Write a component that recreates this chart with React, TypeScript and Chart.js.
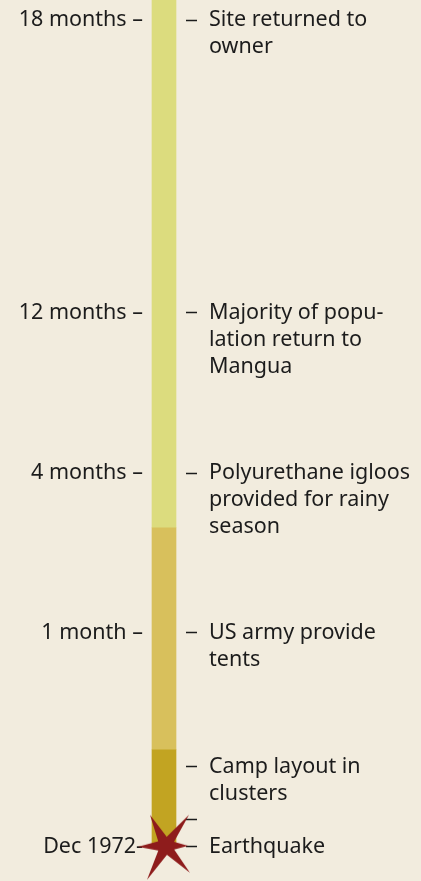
import React, { useEffect, useRef } from 'react';
import { Chart, registerables } from 'chart.js';

Chart.register(...registerables);

// Timeline positions (0 = bottom of the strip, 100 = top)
const tickPositions = [3.9, 7.0, 13.0, 28.2, 46.3, 64.5, 97.7];
const leftLabels = ['Dec 1972-', '', '', '1 month –', '4 months –', '12 months –', '18 months –'];
const rightLabels: string[][] = [
  ['Earthquake'],
  [''],
  ['Camp layout in', 'clusters'],
  ['US army provide', 'tents'],
  ['Polyurethane igloos', 'provided for rainy', 'season'],
  ['Majority of popu-', 'lation return to', 'Mangua'],
  ['Site returned to', 'owner'],
];
const phaseNames = ['Emergency', 'Relief', 'Rehabilitation'];
const phaseStart = [4.1, 14.9, 40.1];
const phaseEnd = [14.9, 40.1, 100];
const phaseColors = ['#c2a422', '#d8c05c', '#dcdc7e'];
const quakePosition = [4.0];

const BG = '#f2ecde';
const TEXT = '#1c1c1c';
const FONT = 'Noto Sans';
const FSIZE = 21.5;

function makeStar(): HTMLCanvasElement {
  const c = document.createElement('canvas');
  c.width = 80;
  c.height = 80;
  const ctx = c.getContext('2d')!;
  const cx = 42;
  const cy = 40;
  const outer: [number, number][] = [
    [-16, -31], [23, -31], [22, 0], [24, 27], [-19, 34], [-28, 1],
  ];
  const pts: [number, number][] = [];
  for (let i = 0; i < outer.length; i++) {
    const a = outer[i];
    const b = outer[(i + 1) % outer.length];
    pts.push(a);
    const aa = Math.atan2(a[1], a[0]);
    let bb = Math.atan2(b[1], b[0]);
    if (bb < aa) bb += Math.PI * 2;
    const mid = (aa + bb) / 2;
    pts.push([Math.cos(mid) * 9, Math.sin(mid) * 9]);
  }
  ctx.beginPath();
  pts.forEach((p, i) => {
    if (i === 0) ctx.moveTo(cx + p[0], cy + p[1]);
    else ctx.lineTo(cx + p[0], cy + p[1]);
  });
  ctx.closePath();
  ctx.fillStyle = '#8e1c1c';
  ctx.fill();
  return c;
}

export default function App() {
  const ref = useRef<HTMLCanvasElement | null>(null);
  useEffect(() => {
    if (!ref.current) return;
    const star = makeStar();
    const barSets: any[] = phaseNames.map((name, i) => ({
      type: 'bar',
      label: name,
      data: [[phaseStart[i], phaseEnd[i]]],
      backgroundColor: phaseColors[i],
      borderWidth: 0,
      barThickness: 24,
      grouped: false,
      yAxisID: 'y',
      order: 2,
    }));
    const chart = new Chart(ref.current, {
      type: 'bar',
      data: {
        labels: ['Timeline'],
        datasets: [
          {
            type: 'line',
            label: 'Earthquake',
            data: quakePosition,
            showLine: false,
            pointStyle: star as any,
            pointRadius: 10,
            yAxisID: 'y',
            order: 0,
            clip: false,
          } as any,
          ...barSets,
        ],
      },
      options: {
        animation: false,
        responsive: true,
        maintainAspectRatio: false,
        layout: { padding: 0, autoPadding: false },
        plugins: { legend: { display: false }, tooltip: { enabled: false } },
        scales: {
          x: { display: false },
          y: {
            position: 'left',
            min: 0,
            max: 100,
            border: { display: false },
            grid: { display: false, drawTicks: false },
            afterBuildTicks: (s: any) => {
              s.ticks = tickPositions.map((v) => ({ value: v }));
            },
            afterFit: (s: any) => {
              s.width = 148;
              s.paddingTop = 0;
              s.paddingBottom = 0;
            },
            ticks: {
              autoSkip: false,
              padding: 5,
              color: TEXT,
              font: { family: FONT, size: FSIZE },
              callback: (_v: any, i: number) => leftLabels[i],
            },
          },
          y2: {
            position: 'right',
            min: 0,
            max: 100,
            border: { display: false },
            grid: {
              display: true,
              drawOnChartArea: false,
              drawTicks: true,
              tickLength: 17,
              tickColor: TEXT,
              tickWidth: 1.3,
              tickBorderDash: [0, 6, 11, 0],
            },
            afterBuildTicks: (s: any) => {
              s.ticks = tickPositions.map((v) => ({ value: v }));
            },
            afterFit: (s: any) => {
              s.width = 241;
              s.paddingTop = 0;
              s.paddingBottom = 0;
            },
            ticks: {
              autoSkip: false,
              padding: 12,
              color: TEXT,
              font: { family: FONT, size: FSIZE, lineHeight: 27 / FSIZE },
              crossAlign: 'near',
              callback: (_v: any, i: number) => {
                const lines = rightLabels[i];
                const pad = new Array(lines.length - 1).fill('');
                return [...pad, ...lines];
              },
            },
          },
        },
      } as any,
    });
    return () => chart.destroy();
  }, []);
  return (
    <div style={{ position: 'absolute', left: 0, top: 0, width: 421, height: 881, background: BG }}>
      <canvas ref={ref} />
    </div>
  );
}
